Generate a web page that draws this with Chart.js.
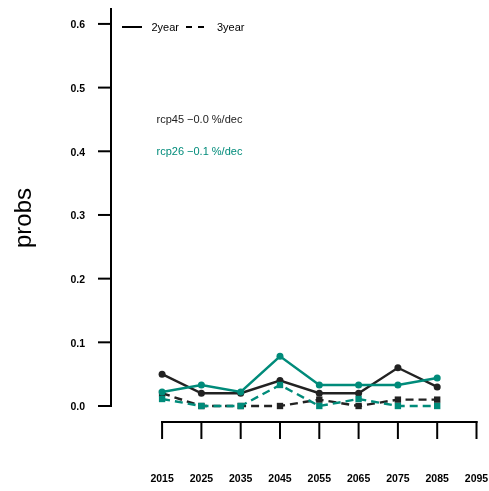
<!DOCTYPE html>
<html><head><meta charset="utf-8">
<script src="https://cdn.jsdelivr.net/npm/chart.js@4/dist/chart.umd.min.js"></script>
<style>html,body{margin:0;padding:0;background:#fff;}#wrap{width:489px;height:491px;}</style>
</head><body><div id="wrap"><canvas id="c" width="489" height="491"></canvas></div>
<script>
const years = [2015, 2025, 2035, 2045, 2055, 2065, 2075, 2085];
const rcp45_2year = [0.05, 0.02, 0.02, 0.04, 0.02, 0.02, 0.06, 0.03];
const rcp45_3year = [0.02, 0, 0, 0, 0.01, 0, 0.01, 0.01];
const rcp26_2year = [0.022, 0.033, 0.022, 0.078, 0.033, 0.033, 0.033, 0.044];
const rcp26_3year = [0.011, 0, 0, 0.033, 0, 0.011, 0, 0];
const yTickValues = [0, 0.1, 0.2, 0.3, 0.4, 0.5, 0.6];
const yTickLabels = ['0.0', '0.1', '0.2', '0.3', '0.4', '0.5', '0.6'];
const xTickValues = [2015, 2025, 2035, 2045, 2055, 2065, 2075, 2085, 2095];
const xTickLabels = ['2015', '2025', '2035', '2045', '2055', '2065', '2075', '2085', '2095'];
const annotations = ['rcp45 \u22120.0 %/dec', 'rcp26 \u22120.1 %/dec'];
const legendLabels = ['2year', '3year'];

const BLACK = '#222222';
const TEAL = '#008b7a';
const FONT = '"Liberation Sans", Arial, sans-serif';

function pts(vals) { return years.map((y, i) => ({x: y, y: vals[i]})); }

const axesPlugin = {
  id: 'axesPlugin',
  afterDraw(chart) {
    const ctx = chart.ctx, x = chart.scales.x, y = chart.scales.y, ca = chart.chartArea;
    ctx.save();
    ctx.strokeStyle = '#000'; ctx.fillStyle = '#000'; ctx.lineWidth = 2;
    // y axis
    ctx.beginPath(); ctx.moveTo(ca.left, ca.top); ctx.lineTo(ca.left, y.getPixelForValue(0) + 1); ctx.stroke();
    ctx.font = 'bold 10.5px ' + FONT;
    ctx.textBaseline = 'middle'; ctx.textAlign = 'right';
    yTickValues.forEach((v, i) => {
      const py = y.getPixelForValue(v);
      ctx.beginPath(); ctx.moveTo(ca.left - 13, py); ctx.lineTo(ca.left, py); ctx.stroke();
      ctx.fillText(yTickLabels[i], ca.left - 26, py + 1.5);
    });
    // x axis
    const ay = y.getPixelForValue(0) + 16;
    ctx.beginPath();
    ctx.moveTo(x.getPixelForValue(xTickValues[0]) - 1, ay);
    ctx.lineTo(x.getPixelForValue(xTickValues[xTickValues.length - 1]) + 1, ay);
    ctx.stroke();
    ctx.textAlign = 'center';
    xTickValues.forEach((v, i) => {
      const px = x.getPixelForValue(v);
      ctx.beginPath(); ctx.moveTo(px, ay - 1); ctx.lineTo(px, ay + 17); ctx.stroke();
      ctx.fillText(xTickLabels[i], px, ay + 57);
    });
    // y title
    ctx.save();
    ctx.translate(24, y.getPixelForValue(0.3) + 3);
    ctx.rotate(-Math.PI / 2);
    ctx.font = '24px ' + FONT;
    ctx.textAlign = 'center'; ctx.textBaseline = 'middle';
    ctx.fillText('probs', 0, 0);
    ctx.restore();
    // legend
    ctx.font = '11px ' + FONT;
    ctx.textBaseline = 'middle'; ctx.textAlign = 'left';
    ctx.beginPath(); ctx.moveTo(122, 27); ctx.lineTo(142, 27); ctx.stroke();
    ctx.fillText(legendLabels[0], 151.5, 27.5);
    ctx.setLineDash([6, 6]);
    ctx.beginPath(); ctx.moveTo(186, 27); ctx.lineTo(204, 27); ctx.stroke();
    ctx.setLineDash([]);
    ctx.fillText(legendLabels[1], 217, 27.5);
    // annotations
    ctx.fillStyle = BLACK;
    ctx.fillText(annotations[0], 156.5, 119.5);
    ctx.fillStyle = TEAL;
    ctx.fillText(annotations[1], 156.5, 151.5);
    ctx.restore();
  }
};

new Chart(document.getElementById('c'), {
  type: 'line',
  data: {
    datasets: [
      {label: 'rcp26 3year', data: pts(rcp26_3year), borderColor: TEAL, backgroundColor: TEAL, borderDash: [8, 5], borderWidth: 2.4, pointStyle: 'rect', pointRadius: 4.5, pointBorderWidth: 0, order: 1},
      {label: 'rcp26 2year', data: pts(rcp26_2year), borderColor: TEAL, backgroundColor: TEAL, borderWidth: 2.4, pointStyle: 'circle', pointRadius: 3.5, pointBorderWidth: 0, order: 2},
      {label: 'rcp45 3year', data: pts(rcp45_3year), borderColor: BLACK, backgroundColor: BLACK, borderDash: [8, 5], borderWidth: 2.4, pointStyle: 'rect', pointRadius: 4.5, pointBorderWidth: 0, order: 3},
      {label: 'rcp45 2year', data: pts(rcp45_2year), borderColor: BLACK, backgroundColor: BLACK, borderWidth: 2.4, pointStyle: 'circle', pointRadius: 3.5, pointBorderWidth: 0, order: 4}
    ]
  },
  options: {
    responsive: false,
    animation: false,
    clip: false,
    layout: {padding: {left: 111, right: 12.5, top: 8, bottom: 85}},
    elements: {line: {tension: 0}},
    plugins: {legend: {display: false}, tooltip: {enabled: false}},
    scales: {
      x: {type: 'linear', min: 2002, max: 2095, display: false},
      y: {type: 'linear', min: 0, max: 0.625, display: false}
    }
  },
  plugins: [axesPlugin]
});
</script>
</body></html>
